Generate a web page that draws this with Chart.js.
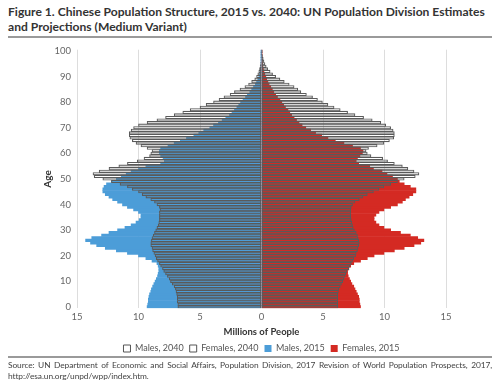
<!DOCTYPE html>
<html>
<head>
<meta charset="utf-8">
<script src="https://cdn.jsdelivr.net/npm/chart.js@4.4.0/dist/chart.umd.min.js"></script>
<style>
  html, body { margin: 0; padding: 0; background: #fff; }
  body { width: 500px; height: 384px; position: relative; overflow: hidden; font-family: Lato, "Open Sans", sans-serif; }
  #title { position: absolute; left: 8px; top: 5px; width: 490px; font-weight: 700; font-size: 12.1px; line-height: 14.5px; color: #333; }
  .rule { position: absolute; left: 8px; width: 484px; height: 2px; background: #9a9a9a; }
  #wrap { position: absolute; left: 0; top: 38px; width: 500px; height: 325px; }
  #source { position: absolute; left: 8px; top: 360px; width: 484px; font-size: 8.4px; line-height: 11px; letter-spacing: -0.1px; color: #444; text-align: justify; text-align-last: left; background: #fff; }
</style>
</head>
<body>
<div id="title">Figure 1. Chinese Population Structure, 2015 vs. 2040: UN Population Division Estimates and Projections (Medium Variant)</div>
<div class="rule" style="top:36px"></div>
<div id="wrap"><canvas id="chart"></canvas></div>
<div class="rule" style="top:356px"></div>
<div id="source">Source: UN Department of Economic and Social Affairs, Population Division, 2017 Revision of World Population Prospects, 2017, http://esa.un.org/unpd/wpp/index.htm.</div>

<script>
/* ── Data — millions of people by single year of age, 0 to 100 ── */
const AGES = Array.from({ length: 101 }, (_, i) => i);

const MALES_2015 = [
  9.3, 9.25, 9.2, 9.2, 9.15, 9.1, 9.0, 8.95, 8.85, 8.75,
  8.65, 8.55, 8.45, 8.4, 8.35, 8.35, 8.4, 8.5, 8.9, 9.4,
  10.0, 10.9, 11.8, 12.7, 13.4, 13.9, 14.3, 13.8, 13.0, 12.4,
  11.7, 11.1, 10.6, 10.2, 9.95, 9.8, 9.8, 10.0, 10.4, 10.9,
  11.3, 11.7, 12.1, 12.4, 12.7, 12.9, 12.9, 12.8, 12.6, 12.2,
  11.8, 11.4, 11.0, 10.6, 10.0, 9.4, 8.2, 7.9, 8.0, 8.2,
  8.3, 8.3, 8.2, 7.6, 7.1, 6.6, 6.1, 5.5, 5.1, 4.7,
  4.2, 3.9, 3.5, 3.2, 2.9, 2.6, 2.4, 2.2, 2.0, 1.85,
  1.7, 1.5, 1.3, 1.15, 0.95, 0.8, 0.65, 0.5, 0.4, 0.3,
  0.22, 0.16, 0.12, 0.08, 0.06, 0.04, 0.03, 0.02, 0.01, 0.01,
  0.01
];

const FEMALES_2015 = [
  8.05, 8.0, 7.95, 7.95, 7.9, 7.8, 7.7, 7.6, 7.5, 7.35,
  7.25, 7.15, 7.05, 7.0, 7.0, 7.1, 7.25, 7.5, 8.05, 8.6,
  9.15, 9.95, 10.8, 11.6, 12.4, 12.95, 13.2, 12.7, 12.1, 11.3,
  10.5, 9.95, 9.55, 9.3, 9.15, 9.15, 9.3, 9.55, 9.95, 10.5,
  11.05, 11.45, 11.7, 12.0, 12.3, 12.55, 12.55, 12.1, 11.6, 11.2,
  11.05, 10.65, 10.2, 9.8, 9.1, 8.8, 7.9, 7.7, 7.8, 8.0,
  8.2, 8.25, 8.05, 7.4, 6.7, 6.0, 5.4, 4.9, 4.4, 4.0,
  3.6, 3.3, 3.05, 2.85, 2.65, 2.45, 2.3, 2.15, 1.95, 1.8,
  1.65, 1.5, 1.3, 1.15, 1.0, 0.88, 0.75, 0.62, 0.52, 0.42,
  0.35, 0.27, 0.2, 0.15, 0.11, 0.08, 0.05, 0.04, 0.03, 0.02,
  0.02
];

const MALES_2040 = [
  6.8, 6.8, 6.85, 6.85, 6.85, 6.9, 6.95, 7.0, 7.1, 7.25,
  7.4, 7.5, 7.65, 7.8, 7.95, 8.05, 8.2, 8.3, 8.45, 8.55,
  8.65, 8.75, 8.85, 8.9, 9.0, 9.0, 8.95, 8.9, 8.8, 8.7,
  8.6, 8.5, 8.4, 8.35, 8.3, 8.3, 8.3, 8.3, 8.25, 8.3,
  8.5, 8.7, 9.0, 9.4, 9.7, 10.0, 10.5, 10.9, 11.5, 12.2,
  12.9, 13.6, 13.7, 13.2, 12.4, 11.6, 10.9, 10.1, 9.55, 9.1,
  9.0, 8.9, 9.3, 9.8, 10.2, 10.5, 10.7, 10.75, 10.75, 10.6,
  10.4, 10.0, 9.3, 8.5, 7.8, 7.1, 6.4, 5.8, 5.0, 4.5,
  3.9, 3.45, 3.05, 2.55, 2.2, 1.75, 1.35, 1.05, 0.8, 0.55,
  0.4, 0.3, 0.22, 0.16, 0.11, 0.08, 0.05, 0.04, 0.03, 0.02,
  0.02
];

const FEMALES_2040 = [
  6.2, 6.2, 6.2, 6.2, 6.2, 6.2, 6.25, 6.3, 6.4, 6.5,
  6.6, 6.7, 6.8, 6.85, 6.95, 7.1, 7.2, 7.3, 7.4, 7.5,
  7.65, 7.7, 7.8, 7.85, 7.9, 7.95, 7.9, 7.85, 7.8, 7.7,
  7.55, 7.45, 7.4, 7.35, 7.3, 7.25, 7.25, 7.25, 7.25, 7.3,
  7.4, 7.6, 7.95, 8.25, 8.6, 9.1, 9.55, 9.95, 10.5, 11.05,
  11.6, 12.5, 12.8, 12.4, 11.9, 11.45, 10.8, 10.25, 9.85, 8.9,
  8.6, 8.5, 8.7, 9.4, 9.95, 10.4, 10.75, 10.8, 10.8, 10.7,
  10.5, 10.1, 9.7, 9.0, 8.3, 7.6, 7.0, 6.4, 5.9, 5.4,
  4.95, 4.55, 4.15, 3.65, 3.2, 2.95, 2.65, 2.25, 1.85, 1.5,
  1.15, 0.9, 0.7, 0.5, 0.38, 0.28, 0.2, 0.14, 0.1, 0.06,
  0.08
];

const SERIES_NAMES = ["Males, 2040", "Females, 2040", "Males, 2015", "Females, 2015"];
const X_TICKS      = [-15, -10, -5, 0, 5, 10, 15];

/* ── Colours ── */
const COLORS = {
  male:    "#4c9dd8",
  female:  "#d42a23",
  outline: "#5a5a5a",
  grid:    "#dddddd",
  text:    "#666666",
  dark:    "#333333",
};

const FONT = "Lato, 'Open Sans', sans-serif";

/* 2040 bars are outlines only, drawn on top of the filled 2015 bars */
function outlineSet(label, values, sign) {
  return {
    label,
    data: values.map(v => sign * v),
    backgroundColor: "rgba(255,255,255,0)",
    borderColor: COLORS.outline,
    borderWidth: 0.45,
    borderSkipped: false,
  };
}

function filledSet(label, values, sign, color) {
  return {
    label,
    data: values.map(v => sign * v),
    backgroundColor: color,
    borderWidth: 0,
  };
}

/* legend sits under the plot centre, not under the whole canvas */
const centreLegend = {
  id: "centreLegend",
  afterLayout(chart) {
    const lg   = chart.legend;
    const area = chart.chartArea;
    const shift = (area.left + area.right) / 2 - (lg.left + lg.right) / 2;
    lg.left  += shift;
    lg.right += shift;
  },
};

const ctx = document.getElementById("chart").getContext("2d");
new Chart(ctx, {
  type: "bar",
  data: {
    labels: AGES.map(String),
    datasets: [
      outlineSet(SERIES_NAMES[0], MALES_2040, -1),
      outlineSet(SERIES_NAMES[1], FEMALES_2040, 1),
      filledSet(SERIES_NAMES[2], MALES_2015, -1, COLORS.male),
      filledSet(SERIES_NAMES[3], FEMALES_2015, 1, COLORS.female),
    ],
  },
  plugins: [centreLegend],
  options: {
    indexAxis: "y",
    responsive: true,
    maintainAspectRatio: false,
    animation: false,
    datasets: {
      bar: { grouped: false, barPercentage: 1, categoryPercentage: 1 },
    },
    layout: { padding: { top: 10, right: 54, left: 42, bottom: 0 } },
    plugins: {
      tooltip: { enabled: false },
      legend: {
        position: "bottom",
        labels: {
          boxWidth: 7,
          boxHeight: 7,
          padding: 6,
          color: "#555",
          font: { family: FONT, size: 9 },
          generateLabels: chart => chart.data.datasets.map((ds, i) => ({
            text: ds.label,
            fillStyle: i < 2 ? "#ffffff" : ds.backgroundColor,
            strokeStyle: i < 2 ? "#555555" : ds.backgroundColor,
            lineWidth: i < 2 ? 1 : 0,
            fontColor: "#555",
            datasetIndex: i,
          })),
        },
      },
    },
    scales: {
      x: {
        type: "linear",
        min: X_TICKS[0],
        max: X_TICKS[X_TICKS.length - 1],
        afterBuildTicks: axis => { axis.ticks = X_TICKS.map(v => ({ value: v })); },
        ticks: {
          color: COLORS.text,
          font: { family: FONT, size: 9.5 },
          padding: 3,
          callback: v => String(Math.abs(v)),
        },
        grid: { color: COLORS.grid, drawTicks: false },
        border: { display: false },
        title: {
          display: true,
          text: "Millions of People",
          color: COLORS.dark,
          font: { family: FONT, size: 9.5, weight: "bold" },
          padding: { top: 1, bottom: 0 },
        },
      },
      y: {
        type: "category",
        reverse: true,
        afterFit: axis => { axis.width = 35; },
        ticks: {
          autoSkip: false,
          color: COLORS.text,
          font: { family: FONT, size: 9.5 },
          padding: 6,
          callback: function (val) {
            const age = Number(this.getLabelForValue(val));
            return age % 10 === 0 ? String(age) : null;
          },
        },
        grid: { display: false, drawTicks: false },
        border: { display: false },
        title: {
          display: true,
          text: "Age",
          color: COLORS.dark,
          font: { family: FONT, size: 10, weight: "bold" },
          padding: 0,
        },
      },
    },
  },
});
</script>
</body>
</html>
